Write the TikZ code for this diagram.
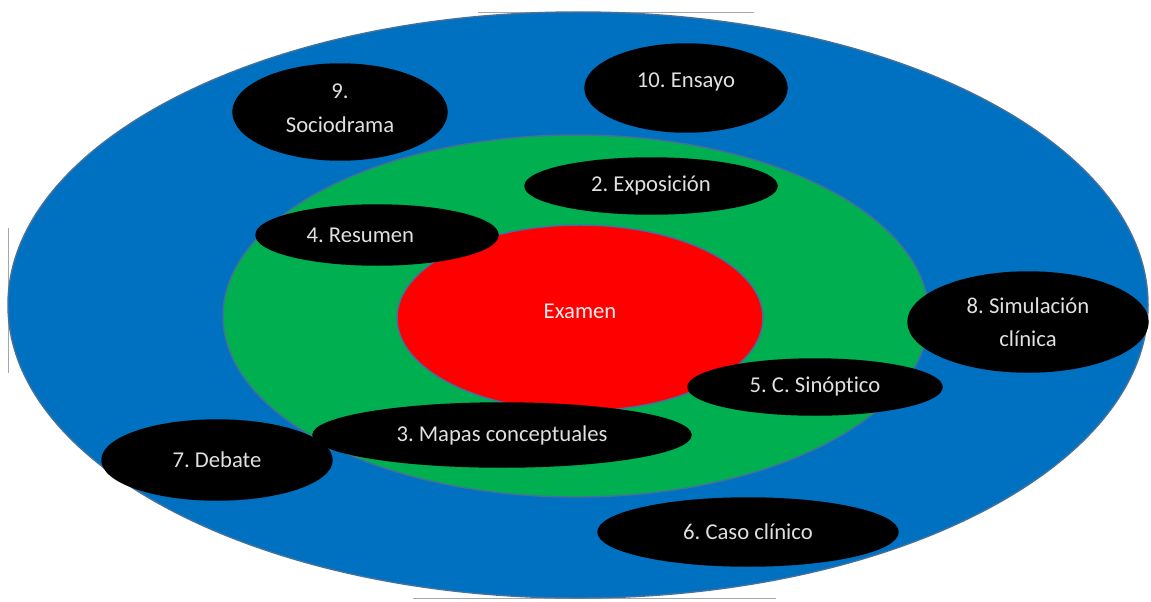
\documentclass[tikz,border=0pt]{standalone}
\usepackage{fontspec}
\setmainfont{Carlito}[Ligatures=NoCommon]
\frenchspacing
\usetikzlibrary{shapes.geometric}
\definecolor{ringblue}{HTML}{0070C0}
\definecolor{ringgreen}{HTML}{00B050}
\definecolor{ringred}{HTML}{FF0000}
\definecolor{rim}{HTML}{41719C}
\definecolor{handle}{HTML}{A6A6A6}
\begin{document}
\begin{tikzpicture}[x=0.75pt,y=-0.75pt,
  oval/.style 2 args={ellipse,draw=rim,line width=1.1pt,inner sep=0pt,
    minimum width=#1*1.5pt,minimum height=#2*1.5pt},
  tech/.style={fill=black,draw=black,text=white!88!black,align=center,
    font=\fontsize{17}{25}\selectfont}]
\useasboundingbox (0,0) rectangle (1151,601);
% crop frame lines
\draw[handle,line width=0.75pt] (478,12) -- (754,12);
\draw[handle,line width=0.75pt] (413,598) -- (776,598);
\draw[handle,line width=0.75pt] (8,228) -- (8,373);
\node[oval={570}{293},fill=ringblue] (outer) at (578,305) {};
\node[oval={353}{181},fill=ringgreen] (middle) at (576,316) {};
\node[oval={183}{93},fill=ringred,text=white!92!red,text depth=10.5pt,
  font=\fontsize{17}{25}\selectfont] (examen) at (580,318) {Examen};
% the techniques
\node[oval={107}{48},tech,text depth=6pt] (sociodrama) at (340,112) {9.\\Sociodrama};
\node[oval={101}{44},tech,text depth=12.5pt] (ensayo) at (686,88) {10. Ensayo};
\node[oval={126}{28},tech] (exposicion) at (651,186) {2. Exposición};
\node[oval={121}{30},tech] (resumen) at (377,235) {4. Resumen\hspace*{25pt}};
\node[oval={120}{50},tech] (simulacion) at (1028,322) {8. Simulación\\clínica};
\node[oval={127}{28},tech] (sinoptico) at (815,387) {5. C. Sinóptico};
\node[oval={115}{40},tech] (debate) at (217,460) {7. Debate};
\node[oval={189}{32},tech] (mapas) at (502,435) {3. Mapas conceptuales};
\node[oval={150}{34},tech] (caso) at (748,532) {6. Caso clínico};
\end{tikzpicture}
\end{document}
